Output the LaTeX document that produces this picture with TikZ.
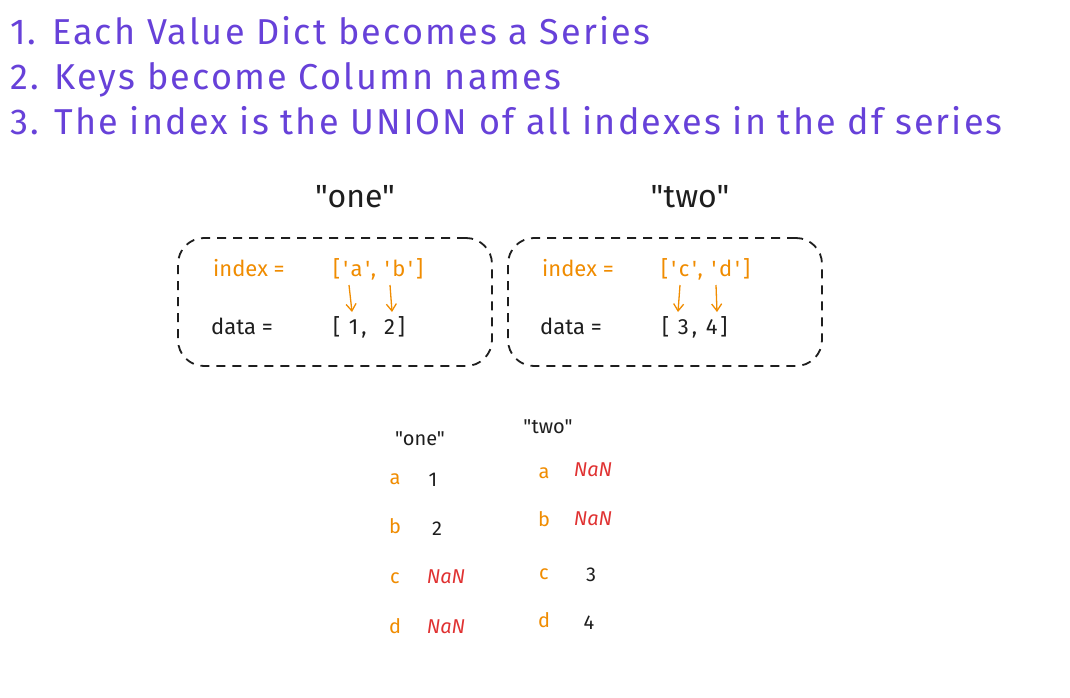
\documentclass[tikz,border=0pt]{standalone}
\usepackage{fontspec}
\usetikzlibrary{arrows.meta}
\newfontfamily\hand{Fira Sans}
\newfontfamily\handwide{Fira Sans}[LetterSpace=6]
\newfontfamily\handlist{Fira Sans}[LetterSpace=13]
\definecolor{exviolet}{RGB}{103,65,217}
\definecolor{exorange}{RGB}{240,140,0}
\definecolor{exred}{RGB}{224,49,49}
\definecolor{exblack}{RGB}{30,30,30}

\begin{document}
\begin{tikzpicture}[x=1pt,y=-1pt,
	point/.style={font=\handwide\fontsize{36}{45}\selectfont, text=exviolet, anchor=base west, inner sep=0pt},
	head/.style={font=\hand\fontsize{32}{40}\selectfont, text=exblack, anchor=base, inner sep=0pt},
	boxtxt/.style={font=\hand\fontsize{22}{27}\selectfont, text=exblack, anchor=base west, inner sep=0pt},
	listtxt/.style={boxtxt, font=\handlist\fontsize{22}{27}\selectfont},
	seriesbox/.style={draw=exblack, line width=1.8pt, dash pattern=on 9pt off 7pt, rounded corners=26pt, minimum width=314pt, minimum height=128pt},
	link/.style={exorange, line width=1.3pt, -{Straight Barb[length=7pt,width=10pt]}},
	cell/.style={font=\hand\fontsize{20}{24}\selectfont, text=exblack, anchor=base, inner sep=0pt},
	nan/.style={cell, text=exred, font=\hand\itshape\fontsize{20}{24}\selectfont}]
	\useasboundingbox (0,0) rectangle (1070,698);
	\fill[white] (0,0) rectangle (1070,698);
	% the three rules
	\node[point] (p1) at (10,45) {1. Each Value Dict becomes a Series};
	\node[point] (p2) at (10,90) {2. Keys become Column names};
	\node[point] (p3) at (10,135) {3. The index is the UNION of all indexes in the df series};
	% the two dict entries
	\node[head] (hone) at (355,207) {"one"};
	\node[head] (htwo) at (690,207) {"two"};
	\node[seriesbox] (sone) at (335,302) {};
	\node[seriesbox] (stwo) at (665,302) {};
	\node[boxtxt, text=exorange] (ione) at (213,276) {index =};
	\node[listtxt, text=exorange] (lone) at (333,276) {['a', 'b']};
	\node[boxtxt] (done) at (211,334) {data =};
	\node[listtxt] (vone) at (333,334) {[ 1,~~2]};
	\node[boxtxt, text=exorange] (itwo) at (542,276) {index =};
	\node[listtxt, text=exorange] (ltwo) at (661,276) {['c', 'd']};
	\node[boxtxt] (dtwo) at (540,334) {data =};
	\node[listtxt] (vtwo) at (662,334) {[ 3, 4]};
	\coordinate (ka) at (349,285); \coordinate (k1) at (352,312);
	\coordinate (kb) at (390,285); \coordinate (k2) at (392,312);
	\coordinate (kc) at (680,285); \coordinate (k3) at (678,312);
	\coordinate (kd) at (716,285); \coordinate (k4) at (717,312);
	\draw[link] (ka) -- (k1);
	\draw[link] (kb) -- (k2);
	\draw[link] (kc) -- (k3);
	\draw[link] (kd) -- (k4);
	% resulting frame
	\node[cell] (cone) at (420,445) {"one"};
	\node[cell] (ctwo) at (548,433) {"two"};
	\node[cell, text=exorange] (ra1) at (395,484) {a};
	\node[cell, text=exorange] (rb1) at (395,533) {b};
	\node[cell, text=exorange] (rc1) at (395,583) {c};
	\node[cell, text=exorange] (rd1) at (395,633) {d};
	\node[cell] (va1) at (433,486) {1};
	\node[cell] (vb1) at (437,535) {2};
	\node[nan] (vc1) at (446,583) {NaN};
	\node[nan] (vd1) at (446,633) {NaN};
	\node[cell, text=exorange] (ra2) at (544,478) {a};
	\node[cell, text=exorange] (rb2) at (544,526) {b};
	\node[cell, text=exorange] (rc2) at (544,579) {c};
	\node[cell, text=exorange] (rd2) at (544,627) {d};
	\node[nan] (va2) at (593,476) {NaN};
	\node[nan] (vb2) at (593,525) {NaN};
	\node[cell] (vc2) at (591,581) {3};
	\node[cell] (vd2) at (589,629) {4};
\end{tikzpicture}
\end{document}
